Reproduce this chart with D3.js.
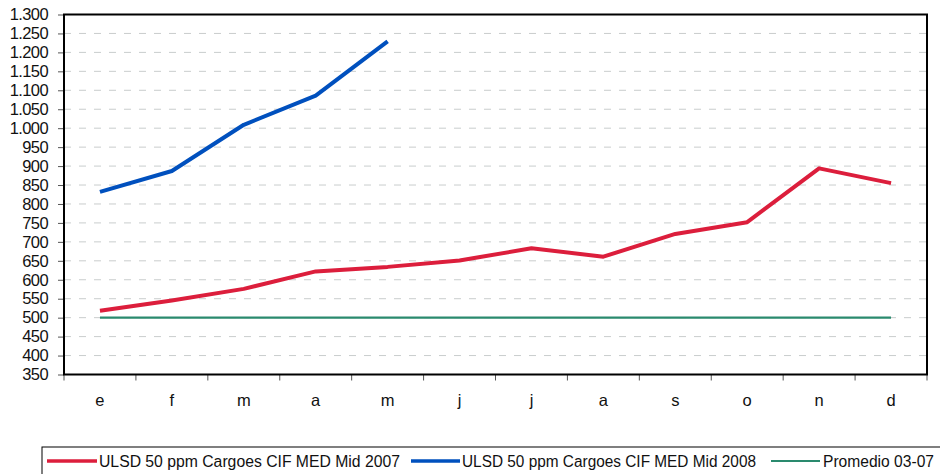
<!DOCTYPE html>
<html>
<head>
<meta charset="utf-8">
<script src="https://cdn.jsdelivr.net/npm/d3@7"></script>
<style>
  html, body { margin: 0; padding: 0; background: #fff; }
  svg { display: block; font-family: "Liberation Sans", Arial, sans-serif; }
</style>
</head>
<body>
<svg id="chart" width="940" height="474"></svg>
<script>
// ---- data ----
const months = ["e", "f", "m", "a", "m", "j", "j", "a", "s", "o", "n", "d"];
const ulsd2007 = [518, 545, 576, 622, 634, 651, 683, 661, 721, 752, 894, 855];
const ulsd2008 = [832, 887, 1009, 1086, 1229];
const promedio = [500, 500, 500, 500, 500, 500, 500, 500, 500, 500, 500, 500];
const yTicks = [350, 400, 450, 500, 550, 600, 650, 700, 750, 800, 850, 900, 950, 1000, 1050, 1100, 1150, 1200, 1250, 1300];
const seriesNames = ["ULSD 50 ppm Cargoes CIF MED Mid 2007", "ULSD 50 ppm Cargoes CIF MED Mid 2008", "Promedio 03-07"];
const seriesColors = ["#DC1E3C", "#0050BE", "#2A8A6E"];

// ---- layout ----
const L = 64, R = 927, T = 14.5, B = 374.5;
const svg = d3.select("#chart");

const x = d3.scaleBand().domain(d3.range(months.length)).range([L, R]);
const y = d3.scaleLinear().domain([350, 1300]).range([B, T]);

const loc = d3.formatLocale({decimal: ",", thousands: ".", grouping: [3], currency: ["", ""]});
const fmt = loc.format(",");

// gridlines
svg.append("g")
  .selectAll("line")
  .data(yTicks.filter(v => v > 350 && v < 1300))
  .join("line")
  .attr("x1", L).attr("x2", R)
  .attr("y1", d => y(d)).attr("y2", d => y(d))
  .attr("stroke", "#c9cdcd")
  .attr("stroke-width", 1)
  .attr("stroke-dasharray", "7,8");

// y axis
const yAxis = svg.append("g")
  .attr("transform", `translate(${L},0)`)
  .call(d3.axisLeft(y).tickValues(yTicks).tickFormat(fmt).tickSize(6).tickPadding(10));
yAxis.select(".domain").remove();
yAxis.selectAll(".tick line").attr("stroke", "#555").attr("stroke-width", 1);
yAxis.selectAll(".tick text").attr("font-size", "16.5px").attr("fill", "#111")
  .attr("font-family", "'Liberation Sans', Arial, sans-serif").attr("letter-spacing", "-0.6px");

// x axis labels
const xAxis = svg.append("g")
  .attr("transform", `translate(0,${B})`)
  .call(d3.axisBottom(x).tickFormat(i => months[i]).tickSize(0).tickPadding(20));
xAxis.select(".domain").remove();
xAxis.selectAll(".tick text").attr("font-size", "16.5px").attr("fill", "#111")
  .attr("font-family", "'Liberation Sans', Arial, sans-serif");

// x boundary ticks
const bounds = d3.range(months.length).map(i => x(i)).concat([x.range()[1]]);
svg.append("g")
  .selectAll("line")
  .data(bounds)
  .join("line")
  .attr("x1", d => d).attr("x2", d => d)
  .attr("y1", B).attr("y2", B + 6)
  .attr("stroke", "#555").attr("stroke-width", 1);

// plot border
svg.append("rect")
  .attr("x", L).attr("y", T)
  .attr("width", R - L).attr("height", B - T)
  .attr("fill", "none")
  .attr("stroke", "#000")
  .attr("stroke-width", 2);

// lines
const line = d3.line()
  .x((d, i) => x(i) + x.bandwidth() / 2)
  .y(d => y(d));

const series = [
  {values: promedio, color: seriesColors[2], width: 2.3},
  {values: ulsd2007, color: seriesColors[0], width: 4},
  {values: ulsd2008, color: seriesColors[1], width: 4}
];
svg.append("g")
  .selectAll("path")
  .data(series)
  .join("path")
  .attr("d", d => line(d.values))
  .attr("fill", "none")
  .attr("stroke", d => d.color)
  .attr("stroke-width", d => d.width)
  .attr("stroke-linejoin", "round");

// legend
svg.append("rect")
  .attr("x", 42).attr("y", 447)
  .attr("width", 940).attr("height", 60)
  .attr("fill", "none").attr("stroke", "#000").attr("stroke-width", 1);

const legendItems = [
  {name: seriesNames[0], color: seriesColors[0], width: 3.5, x1: 47, x2: 97, tx: 99, tw: 301},
  {name: seriesNames[1], color: seriesColors[1], width: 3.5, x1: 411, x2: 460, tx: 462, tw: 294},
  {name: seriesNames[2], color: seriesColors[2], width: 2, x1: 771, x2: 820, tx: 823, tw: 111}
];
const lg = svg.append("g").selectAll("g").data(legendItems).join("g");
lg.append("line")
  .attr("x1", d => d.x1).attr("x2", d => d.x2)
  .attr("y1", 461).attr("y2", 461)
  .attr("stroke", d => d.color).attr("stroke-width", d => d.width);
lg.append("text")
  .attr("x", d => d.tx).attr("y", 466.5)
  .attr("font-size", "16px")
  .attr("fill", "#111")
  .attr("textLength", d => d.tw)
  .attr("lengthAdjust", "spacingAndGlyphs")
  .text(d => d.name);
</script>
</body>
</html>
